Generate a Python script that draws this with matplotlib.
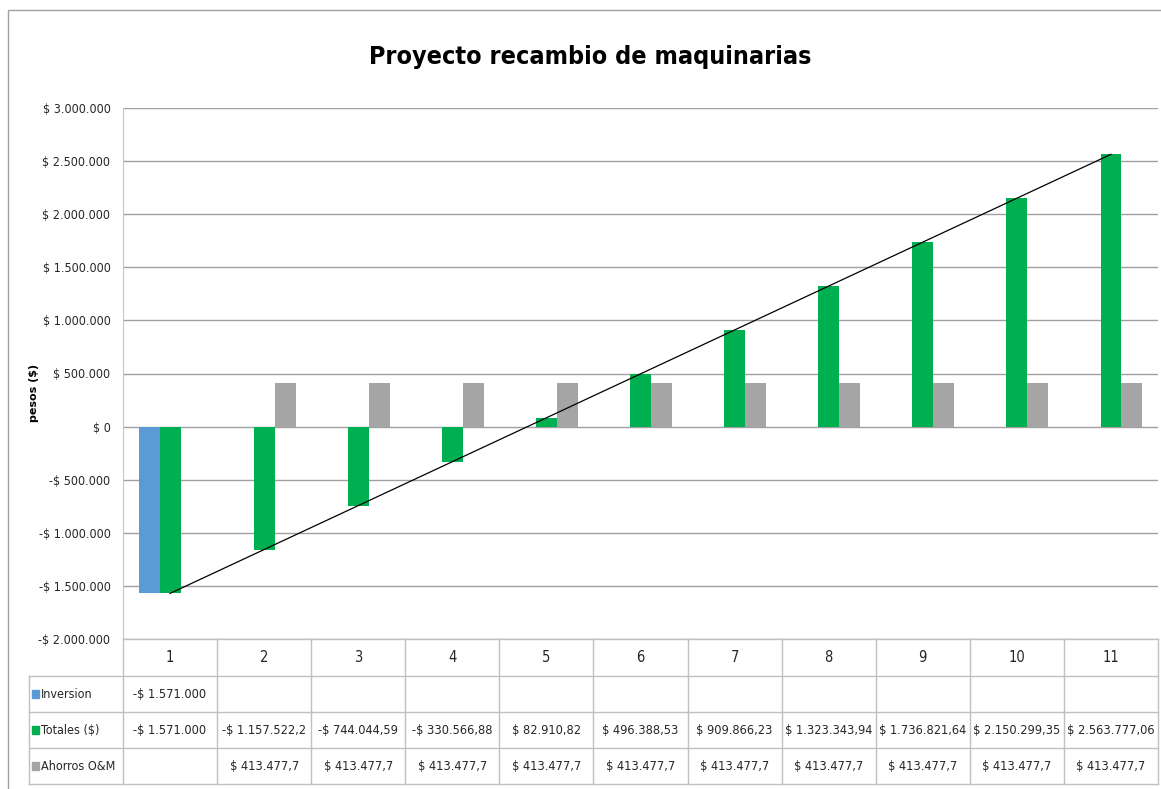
import numpy as np
import matplotlib
matplotlib.use("Agg")
import matplotlib.pyplot as plt
from matplotlib.patches import Rectangle
from matplotlib.lines import Line2D

# datos
categorias = ["1", "2", "3", "4", "5", "6", "7", "8", "9", "10", "11"]
inversion = [-1571000, None, None, None, None, None, None, None, None, None, None]
totales = [-1571000, -1157522.2, -744044.59, -330566.88, 82910.82, 496388.53,
           909866.23, 1323343.94, 1736821.64, 2150299.35, 2563777.06]
ahorros = [None, 413477.7, 413477.7, 413477.7, 413477.7, 413477.7,
           413477.7, 413477.7, 413477.7, 413477.7, 413477.7]

txt_inversion = ["-$ 1.571.000", "", "", "", "", "", "", "", "", "", ""]
txt_totales = ["-$ 1.571.000", "-$ 1.157.522,2", "-$ 744.044,59", "-$ 330.566,88",
               "$ 82.910,82", "$ 496.388,53", "$ 909.866,23", "$ 1.323.343,94",
               "$ 1.736.821,64", "$ 2.150.299,35", "$ 2.563.777,06"]
txt_ahorros = ["", "$ 413.477,7", "$ 413.477,7", "$ 413.477,7", "$ 413.477,7",
               "$ 413.477,7", "$ 413.477,7", "$ 413.477,7", "$ 413.477,7",
               "$ 413.477,7", "$ 413.477,7"]
series = ["Inversion", "Totales ($)", "Ahorros O&M"]
colores = ["#5b9bd5", "#00b050", "#a5a5a5"]

y_ticks = [-2000000, -1500000, -1000000, -500000, 0, 500000, 1000000,
           1500000, 2000000, 2500000, 3000000]
y_labels = ["-$ 2.000.000", "-$ 1.500.000", "-$ 1.000.000", "-$ 500.000", "$ 0",
            "$ 500.000", "$ 1.000.000", "$ 1.500.000", "$ 2.000.000",
            "$ 2.500.000", "$ 3.000.000"]

# fuente angosta (tipo Calibri)
fk = dict(family="DejaVu Sans", fontstretch="condensed")
tc = "#262626"

W, H = 1161, 789
fig = plt.figure(figsize=(W / 100, H / 100), dpi=100)

def fx(px):
    return px / W

def fy(py):
    return 1 - py / H

# marco exterior
fig.patches.append(Rectangle((fx(8), fy(800)), fx(1170) - fx(8), fy(10) - fy(800),
                             transform=fig.transFigure, fill=False,
                             edgecolor="#a0a0a0", lw=1))

x_left, x_right = 123, 1158
y_top, y_bot = 108, 639
ax = fig.add_axes([fx(x_left), fy(y_bot), fx(x_right) - fx(x_left), fy(y_top) - fy(y_bot)])

n = len(categorias)
x = np.arange(1, n + 1)
bw = 1 / 4.5
ax.set_xlim(0.5, n + 0.5)
ax.set_ylim(-2000000, 3000000)

for i, (vals, c) in enumerate(zip([inversion, totales, ahorros], colores)):
    xs = [xi + (i - 1) * bw for xi, v in zip(x, vals) if v is not None]
    vs = [v for v in vals if v is not None]
    ax.bar(xs, vs, width=bw, color=c, zorder=3)

# linea de tendencia lineal de Totales
coef = np.polyfit(x, totales, 1)
ax.plot([1, n], np.polyval(coef, [1, n]), color="black", lw=0.9, zorder=4)

ax.set_yticks(y_ticks)
ax.set_yticklabels(y_labels, fontsize=9, color=tc, **fk)
ax.set_xticks([])
ax.tick_params(axis="y", length=0, pad=9)
ax.grid(axis="y", color="#a0a0a0", lw=1, zorder=0)
for s in ["top", "right", "bottom"]:
    ax.spines[s].set_visible(False)
ax.spines["left"].set_color("#c8c8c8")

fig.text(fx(34), fy(393), "pesos ($)", rotation=90, ha="center", va="center",
         fontsize=8, fontweight="bold", family="DejaVu Sans", color="black")

fig.text(fx(590), fy(57), "Proyecto recambio de maquinarias", ha="center", va="center",
         fontsize=18, fontweight="bold", color="black", **fk)

# tabla de datos
filas = [639, 676, 712, 748, 784]
col_w = (x_right - x_left) / n
col_x = [x_left + k * col_w for k in range(n + 1)]
gc = "#c0c0c0"

def hline(y, x0, x1):
    fig.add_artist(Line2D([fx(x0), fx(x1)], [fy(y), fy(y)], color=gc, lw=1))

def vline(x0, y0, y1):
    fig.add_artist(Line2D([fx(x0), fx(x0)], [fy(y0), fy(y1)], color=gc, lw=1))

hline(filas[0], x_left, x_right)
for y in filas[1:]:
    hline(y, 29, x_right)
for cx in col_x:
    vline(cx, filas[0], filas[-1])
vline(29, filas[1], filas[-1])

for k, cat in enumerate(categorias):
    fig.text(fx(x_left + (k + 0.5) * col_w), fy((filas[0] + filas[1]) / 2), cat,
             ha="center", va="center", fontsize=10.5, color=tc, **fk)

for r, (nombre, textos, c) in enumerate(zip(series, [txt_inversion, txt_totales, txt_ahorros], colores)):
    yc = (filas[r + 1] + filas[r + 2]) / 2
    fig.patches.append(Rectangle((fx(32), fy(yc + 4)), fx(7), fy(0) - fy(8),
                                 transform=fig.transFigure, color=c))
    fig.text(fx(41), fy(yc), nombre, ha="left", va="center", fontsize=9,
             color=tc, **fk)
    for k, t in enumerate(textos):
        fig.text(fx(x_left + (k + 0.5) * col_w), fy(yc), t, ha="center", va="center",
                 fontsize=9.2, color=tc, **fk)

fig.savefig("out.png", dpi=100)
